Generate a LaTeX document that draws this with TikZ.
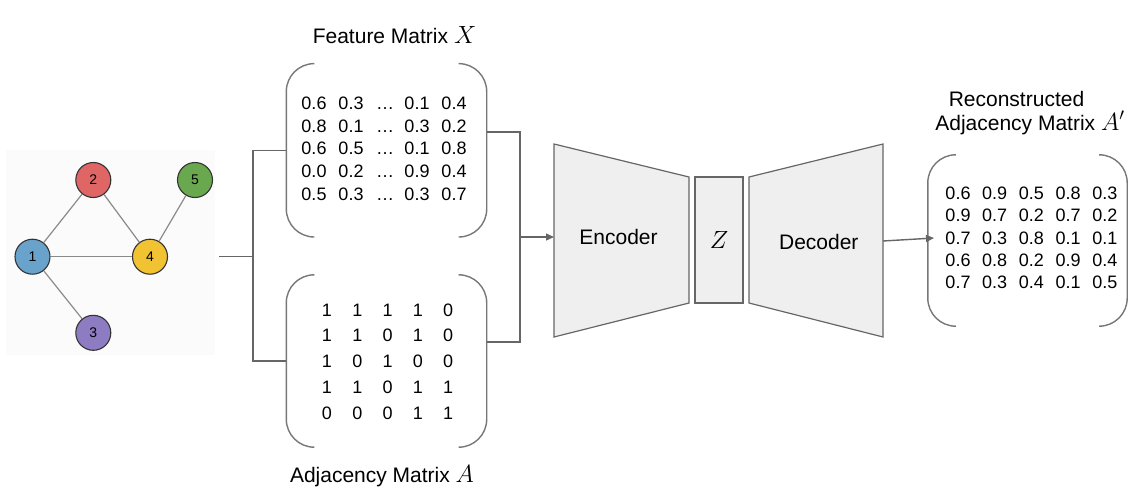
\documentclass[tikz,border=0pt]{standalone}
\usepackage{fontspec}
\setmainfont{Liberation Sans}
\usetikzlibrary{arrows.meta}
\definecolor{nblue}{HTML}{69A3CC}
\definecolor{nred}{HTML}{E06666}
\definecolor{nyellow}{HTML}{F1C232}
\definecolor{ngreen}{HTML}{6AA84F}
\definecolor{npurple}{HTML}{8E7CC3}
\definecolor{gdraw}{HTML}{333333}
\definecolor{edgegray}{HTML}{8A8A8A}
\definecolor{conngray}{HTML}{666666}
\definecolor{brkgray}{HTML}{777777}
\definecolor{blockfill}{HTML}{EFEFEF}
\definecolor{blockdraw}{HTML}{666666}
\definecolor{panel}{HTML}{FBFBFB}
\newcommand{\mymath}[1]{\scalebox{1.2}{$#1$}}
\begin{document}
\begin{tikzpicture}[x=1pt,y=-1pt,
  gnode/.style={circle, draw=gdraw, line width=1.1pt, minimum size=35pt, inner sep=0pt, font=\fontsize{14}{14}\selectfont},
  gedge/.style={draw=edgegray, line width=1.2pt},
  conn/.style={draw=conngray, line width=1.4pt},
  brk/.style={draw=brkgray, line width=1.4pt, rounded corners=28pt},
  num/.style={anchor=base, inner sep=0pt, font=\fontsize{18}{18}\selectfont},
  ttl/.style={anchor=base, inner sep=0pt, font=\fontsize{21}{25}\selectfont},
  block/.style={fill=blockfill, draw=blockdraw, line width=1.2pt},
  matbox/.style={draw=none, inner sep=0pt}]
\useasboundingbox (0,0) rectangle (1128,488);

% graph panel
\node[fill=panel, draw=none, minimum width=209pt, minimum height=205pt, inner sep=0pt] (G) at (110.5,252.5) {};
\node[gnode, fill=nblue] (n1) at (32.5,256.7) {1};
\node[gnode, fill=nred] (n2) at (93.3,180) {2};
\node[gnode, fill=npurple] (n3) at (93.3,332.8) {3};
\node[gnode, fill=nyellow] (n4) at (150,256.7) {4};
\node[gnode, fill=ngreen] (n5) at (195,180) {5};
\draw[gedge] (n1) -- (n2);
\draw[gedge] (n2) -- (n4);
\draw[gedge] (n1) -- (n4);
\draw[gedge] (n1) -- (n3);
\draw[gedge] (n4) -- (n5);

% matrix frames
\node[matbox, minimum width=200pt, minimum height=173pt] (X) at (386.5,150.3) {};
\node[matbox, minimum width=200pt, minimum height=172pt] (A) at (386.5,361) {};
\node[matbox, minimum width=199pt, minimum height=171pt] (R) at (1027.5,240.5) {};
\foreach \m in {X,A,R}{
  \draw[brk] ([xshift=27pt]\m.north west) -- (\m.north west) -- (\m.south west) -- ([xshift=27pt]\m.south west);
  \draw[brk] ([xshift=-27pt]\m.north east) -- (\m.north east) -- (\m.south east) -- ([xshift=-27pt]\m.south east);
}

% titles
\node[ttl] (tX) at (394.5,43) {Feature Matrix \mymath{X}};
\node[ttl] (tA) at (382,482.7) {Adjacency Matrix \mymath{A}};
\node[ttl] (tR1) at (1016.5,106.7) {Reconstructed};
\node[ttl] (tR2) at (1030,130) {Adjacency Matrix \mymath{A'}};

% feature matrix entries
\foreach \a/\b/\c/\d [count=\i from 0] in {0.6/0.3/0.1/0.4, 0.8/0.1/0.3/0.2, 0.6/0.5/0.1/0.8, 0.0/0.2/0.9/0.4, 0.5/0.3/0.3/0.7}{
  \node[num] (xa\i) at (314,{109.3+22.8*\i}) {\a};
  \node[num] (xb\i) at (351,{109.3+22.8*\i}) {\b};
  \node[num] (xc\i) at (385,{109.3+22.8*\i}) {…};
  \node[num] (xd\i) at (417,{109.3+22.8*\i}) {\c};
  \node[num] (xe\i) at (454,{109.3+22.8*\i}) {\d};
}
% adjacency entries
\foreach \r [count=\i from 0] in {{1,1,1,1,0},{1,1,0,1,0},{1,0,1,0,0},{1,1,0,1,1},{0,0,0,1,1}}{
  \foreach \v [count=\j from 0] in \r {
    \node[num] (a\i\j) at ({327+30.3*\j},{316+25.8*\i}) {\v};
  }
}
% reconstructed entries
\foreach \r [count=\i from 0] in {{0.6,0.9,0.5,0.8,0.3},{0.9,0.7,0.2,0.7,0.2},{0.7,0.3,0.8,0.1,0.1},{0.6,0.8,0.2,0.9,0.4},{0.7,0.3,0.4,0.1,0.5}}{
  \foreach \v [count=\j from 0] in \r {
    \node[num] (r\i\j) at ({958+36.7*\j},{199.5+22.3*\i}) {\v};
  }
}

% connectors left
\coordinate (gout) at (219,256.5);
\coordinate (split) at (253,256.5);
\draw[conn] (gout) -- (split);
\draw[conn] (X.west) -| (split) |- (A.west);

% encoder / Z / decoder
\draw[block] (554,144) -- (689,177) -- (689,303) -- (554,337) -- cycle;
\draw[block] (749,177) -- (883,144) -- (883,337) -- (749,303) -- cycle;
\node[block, minimum width=48pt, minimum height=126pt, inner sep=0pt, font=\fontsize{21}{25}\selectfont] (Z) at (719,240) {\mymath{Z}};
\node[ttl] (enc) at (618.5,244) {Encoder};
\node[ttl] (dec) at (818.8,249.3) {Decoder};

% connectors right
\coordinate (xout) at (487,132);
\coordinate (aout) at (487,342);
\coordinate (merge) at (520,237);
\coordinate (encin) at (554,237);
\draw[conn] (xout) -| (merge);
\draw[conn] (aout) -| (merge);
\draw[conn, -{Triangle[length=8pt,width=7pt]}] (merge) -- (encin);
\coordinate (decout) at (883,241);
\coordinate (rin) at (934,238);
\draw[conn, -{Triangle[length=8pt,width=7pt]}] (decout) -- (rin);
\end{tikzpicture}
\end{document}
